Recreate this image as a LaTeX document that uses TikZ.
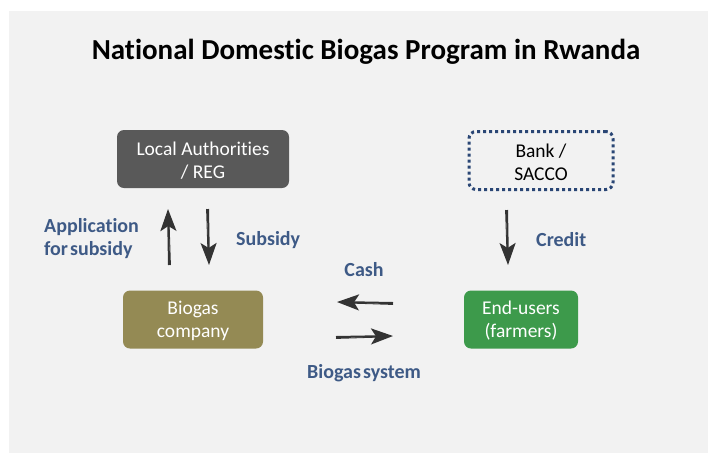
\documentclass[tikz,border=0pt]{standalone}
\usepackage{fontspec}
\setmainfont[Ligatures=NoCommon]{Carlito}
\usetikzlibrary{arrows.meta}
\definecolor{bgc}{HTML}{F2F2F2}
\definecolor{lac}{HTML}{595959}
\definecolor{bcc}{HTML}{948A54}
\definecolor{euc}{HTML}{3D9A4B}
\definecolor{bankc}{HTML}{2A4675}
\definecolor{lblc}{HTML}{3E5A86}
\definecolor{arrc}{HTML}{333333}
\tikzset{
  boxnode/.style={rounded corners=7pt, minimum width=#1, minimum height=58pt, align=center,
    font=\fontsize{19.5}{23}\selectfont, inner sep=0pt},
  lbl/.style={text=lblc, font=\bfseries\fontsize{20}{23}\selectfont, align=left, inner sep=0pt},
  sketcharrow/.style={draw=arrc, line width=2pt, -{Stealth[length=22pt,width=16pt,inset=5pt]}},
  sketchline/.style={draw=arrc, line width=0.8pt},
}
\begin{document}
\begin{tikzpicture}[x=1pt,y=-1pt]
\useasboundingbox (0,0) rectangle (708,453);
\fill[white] (0,0) rectangle (708,453);
\fill[bgc] (9,11) rectangle (708,453);
\node[font=\bfseries\fontsize{29}{34}\selectfont, inner sep=0pt] (title) at (366,52) {National Domestic Biogas Program in Rwanda};
\node[boxnode=172pt, fill=lac, text=white, text depth=0pt] (la) at (203,159) {};
\node[boxnode=144pt, draw=bankc, line width=3pt, dash pattern=on 3pt off 3pt] (bank) at (541,160.5) {};
\node[boxnode=140pt, fill=bcc] (bc) at (193,319.5) {};
\node[boxnode=114pt, fill=euc] (eu) at (521,319.5) {};
\node[boxnode=10pt, minimum height=0pt, text=white] (lat) at ([yshift=-1.5pt]la.center) {Local Authorities\\ / REG};
\node[boxnode=10pt, minimum height=0pt, text=black] (bankt) at ([yshift=-1.5pt]bank.center) {Bank /\\ SACCO};
\node[boxnode=10pt, minimum height=0pt, text=white] (bct) at ([yshift=-1.5pt]bc.center) {Biogas\\ company};
\node[boxnode=10pt, minimum height=0pt, text=white] (eut) at ([yshift=-1.5pt]eu.center) {End-users\\ (farmers)};
% arrow end points
\coordinate (a1s) at (169,265); \coordinate (a1e) at (168,209);
\coordinate (a2s) at (208,209); \coordinate (a2e) at (209,265);
\coordinate (a3s) at (507,210); \coordinate (a3e) at (508,265);
\coordinate (a4s) at (393,303); \coordinate (a4e) at (337,302);
\coordinate (a5s) at (336,337); \coordinate (a5e) at (393,336);
\draw[sketcharrow] (a1s) -- (a1e);
\draw[sketchline] ([xshift=1.5pt]a1s) -- ([xshift=1pt,yshift=-10pt]a1e);
\draw[sketcharrow] (a2s) -- (a2e);
\draw[sketchline] ([xshift=-1.5pt]a2s) -- ([xshift=-1pt,yshift=10pt]a2e);
\draw[sketcharrow] (a3s) -- (a3e);
\draw[sketchline] ([xshift=-1.5pt]a3s) -- ([xshift=-1pt,yshift=10pt]a3e);
\draw[sketcharrow] (a4s) -- (a4e);
\draw[sketchline] ([yshift=-1.5pt]a4s) -- ([xshift=10pt,yshift=-1pt]a4e);
\draw[sketcharrow] (a5s) -- (a5e);
\draw[sketchline] ([yshift=-1.5pt]a5s) -- ([xshift=-10pt,yshift=-1pt]a5e);
\node[lbl, anchor=west] (l1) at (44,239) {Application\\ for\hspace{2pt}subsidy};
\node[lbl, anchor=west] (l2) at (236,240) {Subsidy};
\node[lbl, anchor=west] (l3) at (536,240) {Credit};
\node[lbl] (l4) at (364,270) {Cash};
\node[lbl] (l5) at (364,373) {Biogas\hspace{2pt}system};
\end{tikzpicture}
\end{document}
